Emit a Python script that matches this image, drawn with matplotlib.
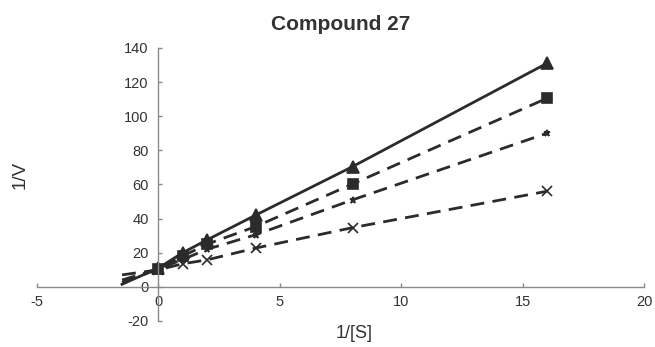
import matplotlib
matplotlib.use("Agg")
import matplotlib.pyplot as plt

plt.rcParams['font.family'] = ['Liberation Sans', 'DejaVu Sans']

# 1/[S] values where markers sit, plus the back-extrapolated line start
x_points = [0, 1, 2, 4, 8, 16]
x_start = -1.5

# 1/V, one list per inhibitor level
y_tri = [11, 20, 27.5, 42, 70.5, 131]
y_sq = [10.5, 18, 25, 35.3, 60.3, 110.5]
y_dia = [10.5, 16, 22, 30.5, 51, 90]
y_x = [10, 13.5, 15.8, 22.7, 34.7, 56]
# value of each line at its left end (x_start)
y_start = {"tri": 1.5, "sq": 2.5, "dia": 4.0, "x": 7.0}

xticks = [-5, 0, 5, 10, 15, 20]
yticks = [-20, 0, 20, 40, 60, 80, 100, 120, 140]

ink = "#2b2b2b"
axis_col = "#8a8a8a"
text_col = "#333333"

fig = plt.figure(figsize=(6.55, 3.47), dpi=100)
ax = fig.add_axes([0.0565, 0.075, 0.927, 0.787])

series = [
    ("tri", y_tri, "-", "^", 8),
    ("sq", y_sq, (0, (5, 3)), "s", 6.5),
    ("dia", y_dia, (0, (5, 3)), "*", 5),
    ("x", y_x, (0, (5, 3)), "x", 6.5),
]
for key, ys, ls, mk, ms in series:
    ax.plot([x_start] + x_points, [y_start[key]] + ys, color=ink, lw=2.0, ls=ls)
    ax.plot(x_points, ys, ls="none", marker=mk, ms=ms, color=ink, mec=ink, mew=1.2)

ax.set_xlim(-5, 20)
ax.set_ylim(-20, 140)
ax.set_xticks(xticks)
ax.set_yticks(yticks)
ax.set_xticklabels([str(v) for v in xticks])
ax.set_yticklabels([str(v) for v in yticks])

for s in ("top", "right"):
    ax.spines[s].set_visible(False)
ax.spines["left"].set_position(("data", 0))
ax.spines["bottom"].set_position(("data", 0))
for s in ("left", "bottom"):
    ax.spines[s].set_color(axis_col)
    ax.spines[s].set_linewidth(1.0)
ax.tick_params(axis="both", colors=axis_col, labelcolor=text_col, labelsize=10.5,
               length=3, width=1.0, direction="in")
ax.tick_params(axis="x", pad=6)
ax.tick_params(axis="y", pad=7)

ax.set_title("Compound 27", fontsize=15, fontweight="bold", color=text_col, pad=13)
fig.text(0.54, 0.025, "1/[S]", fontsize=13, color=text_col, ha="center")
fig.text(0.017, 0.496, "1/V", fontsize=13.5, color=text_col, rotation=90, va="center")

fig.savefig("out.png", dpi=100)
